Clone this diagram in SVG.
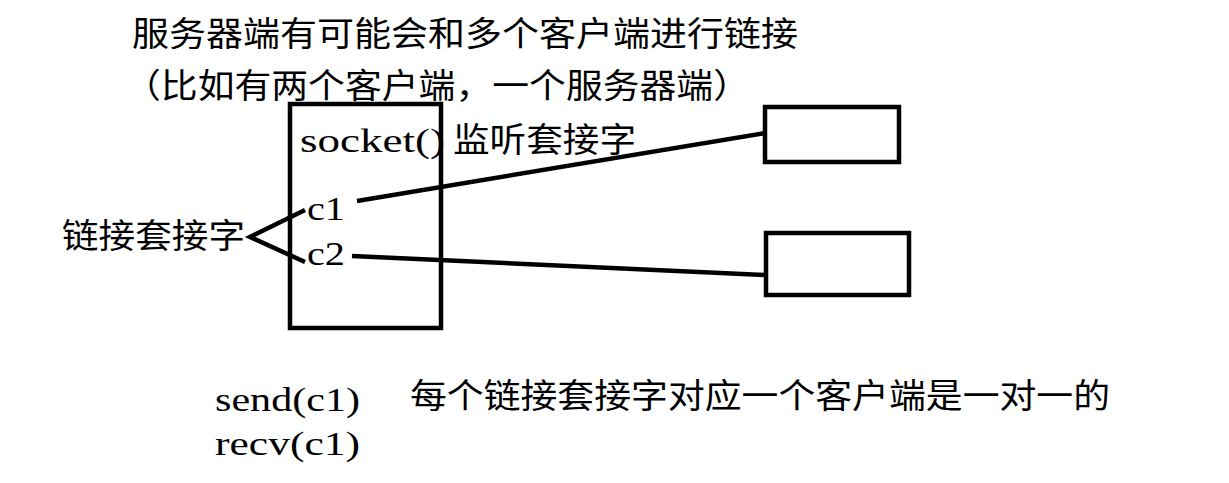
<svg xmlns="http://www.w3.org/2000/svg" width="1229" height="483" viewBox="0 0 1229 483">
<style>
text{font-family:"Liberation Serif","Noto Sans CJK SC",serif;font-size:34px;fill:#000}
.box{fill:none;stroke:#000;stroke-width:4.5}
.ln{stroke:#000;stroke-width:4.5;fill:none}
</style>
<rect width="1229" height="483" fill="#fff"/>
<g id="title">
<text x="132" y="46" textLength="666" lengthAdjust="spacingAndGlyphs">服务器端有可能会和多个客户端进行链接</text>
<text x="124" y="98" textLength="626" lengthAdjust="spacingAndGlyphs">（比如有两个客户端，一个服务器端）</text>
</g>
<g id="server">
<rect class="box" x="290" y="104" width="151" height="224"/>
<text x="300" y="152" textLength="145" lengthAdjust="spacingAndGlyphs">socket()</text>
<text x="453" y="152" textLength="183" lengthAdjust="spacingAndGlyphs">监听套接字</text>
<text x="307" y="220" textLength="38" lengthAdjust="spacingAndGlyphs">c1</text>
<text x="307" y="265" textLength="38" lengthAdjust="spacingAndGlyphs">c2</text>
</g>
<g id="client1"><rect class="box" x="765" y="107" width="134" height="55"/></g>
<g id="client2"><rect class="box" x="766" y="233" width="143" height="62"/></g>
<g id="label-conn">
<text x="62" y="248" textLength="183" lengthAdjust="spacingAndGlyphs">链接套接字</text>
</g>
<g id="connectors">
<line class="ln" x1="357" y1="201" x2="765" y2="133"/>
<line class="ln" x1="352" y1="256" x2="766" y2="275"/>
<polyline class="ln" points="305,210 250,237 305,262"/>
</g>
<g id="notes">
<text x="215" y="411" textLength="145" lengthAdjust="spacingAndGlyphs">send(c1)</text>
<text x="215" y="455" textLength="145" lengthAdjust="spacingAndGlyphs">recv(c1)</text>
<text x="410" y="408" textLength="700" lengthAdjust="spacingAndGlyphs">每个链接套接字对应一个客户端是一对一的</text>
</g>
</svg>
